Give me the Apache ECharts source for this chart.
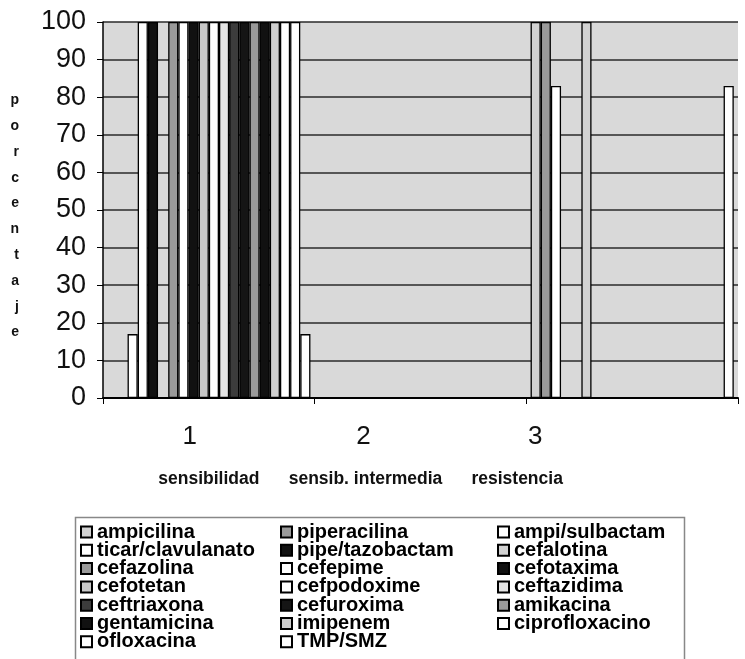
<!DOCTYPE html>
<html><head><meta charset="utf-8">
<script src="https://cdn.jsdelivr.net/npm/echarts@6/dist/echarts.min.js"></script>
<style>html,body{margin:0;padding:0;background:#fff}#c{width:745px;height:659px}</style>
</head><body><div id="c"></div>
<script>
const categories = ['1', '2', '3'];
const categoryNames = ['sensibilidad', 'sensib. intermedia', 'resistencia'];
const yAxisTitle = 'porcentaje';
const antibiotics = ['ampicilina', 'piperacilina', 'ampi/sulbactam', 'ticar/clavulanato', 'pipe/tazobactam',
  'cefalotina', 'cefazolina', 'cefepime', 'cefotaxima', 'cefotetan', 'cefpodoxime', 'ceftazidima',
  'ceftriaxona', 'cefuroxima', 'amikacina', 'gentamicina', 'imipenem', 'ciprofloxacino', 'ofloxacina', 'TMP/SMZ'];
const sensibilidad = [0, 0, 17, 100, 100, 0, 100, 100, 100, 100, 100, 100, 100, 100, 100, 100, 100, 100, 100, 17];
const intermedia   = [0, 0, 0, 0, 0, 0, 0, 0, 0, 0, 0, 0, 0, 0, 0, 0, 0, 0, 0, 0];
const resistencia  = [100, 100, 83, 0, 0, 100, 0, 0, 0, 0, 0, 0, 0, 0, 0, 0, 0, 0, 0, 83];
const barColors = ['#d2d2d2', '#9a9a9a', '#ffffff', '#ffffff', '#111111', '#d2d2d2', '#9a9a9a', '#ffffff',
  '#111111', '#c8c8c8', '#ffffff', '#e4e4e4', '#3c3c3c', '#151515', '#9a9a9a', '#111111', '#cfcfcf',
  '#ffffff', '#ffffff', '#ffffff'];

const FONT = '"Liberation Sans", Arial, sans-serif';
const chart = echarts.init(document.getElementById('c'), null, {renderer: 'canvas'});

const digitShift = [38, 114, 194];
const nameShift = [0, 110, 230];
const rich = {};
categories.forEach((c, i) => {
  rich['d' + i] = {fontFamily: FONT, fontSize: 26, color: '#111', lineHeight: 40, padding: [0, digitShift[i], 0, 0]};
  rich['n' + i] = {fontFamily: FONT, fontSize: 17.5, fontWeight: 'bold', color: '#111', lineHeight: 44, padding: [0, nameShift[i], 0, 0]};
});

const series = antibiotics.map((name, i) => ({
  name: name,
  type: 'bar',
  data: [sensibilidad[i], intermedia[i], resistencia[i]],
  barGap: '0%',
  barCategoryGap: '4%',
  itemStyle: {color: barColors[i], borderColor: '#000', borderWidth: 1.3},
  emphasis: {disabled: true},
  animation: false
}));

const legendCols = [80, 280, 497];
const legends = legendCols.map((x, c) => ({
  orient: 'vertical',
  left: x,
  top: 522,
  height: 200,
  padding: 0,
  itemWidth: 11,
  itemHeight: 11,
  itemGap: -1.7,
  itemTextGap: 7,
  icon: 'rect',
  selectedMode: false,
  textStyle: {fontFamily: FONT, fontSize: 20, fontWeight: 'bold', color: '#000'},
  data: antibiotics.filter((_, i) => i % 3 === c)
}));

const titleLetters = yAxisTitle.split('');
const yName = '{s| }\n' + titleLetters.map(l => '{l|' + l + '}').join('\n');

chart.setOption({
  backgroundColor: '#ffffff',
  animation: false,
  grid: {left: 103, right: 7, top: 22, bottom: 261, show: true, backgroundColor: '#d9d9d9', borderWidth: 0,
    containLabel: false, outerBoundsMode: 'none'},
  legend: legends,
  xAxis: {
    type: 'category',
    data: categories,
    axisLine: {lineStyle: {color: '#000', width: 2}},
    axisTick: {show: true, length: 6, lineStyle: {color: '#000', width: 1}},
    axisLabel: {
      interval: 0,
      margin: 19,
      formatter: (v, i) => '{d' + i + '|' + v + '}\n{n' + i + '|' + categoryNames[i] + '}',
      rich: rich
    }
  },
  yAxis: {
    type: 'value',
    min: 0, max: 100, interval: 10,
    name: yName,
    nameLocation: 'middle',
    nameRotate: 0,
    nameGap: 84,
    nameTextStyle: {
      fontFamily: FONT, fontSize: 14, fontWeight: 'bold', color: '#111',
      rich: {
        s: {fontSize: 10, lineHeight: 13},
        l: {fontFamily: FONT, fontSize: 14, fontWeight: 'bold', color: '#111', lineHeight: 25.8}
      }
    },
    axisLine: {show: true, lineStyle: {color: '#000', width: 1.5}},
    axisTick: {show: true, length: 6, lineStyle: {color: '#000'}},
    axisLabel: {fontFamily: FONT, fontSize: 27, color: '#111', margin: 17},
    splitLine: {show: true, lineStyle: {color: '#2a2a2a', width: 1.7}}
  },
  graphic: [{
    type: 'rect', left: 73, top: 515, silent: true,
    shape: {width: 609, height: 160},
    style: {fill: 'none', stroke: '#888', lineWidth: 1.5},
    z: -1
  }],
  series: series
});
</script>
</body></html>
